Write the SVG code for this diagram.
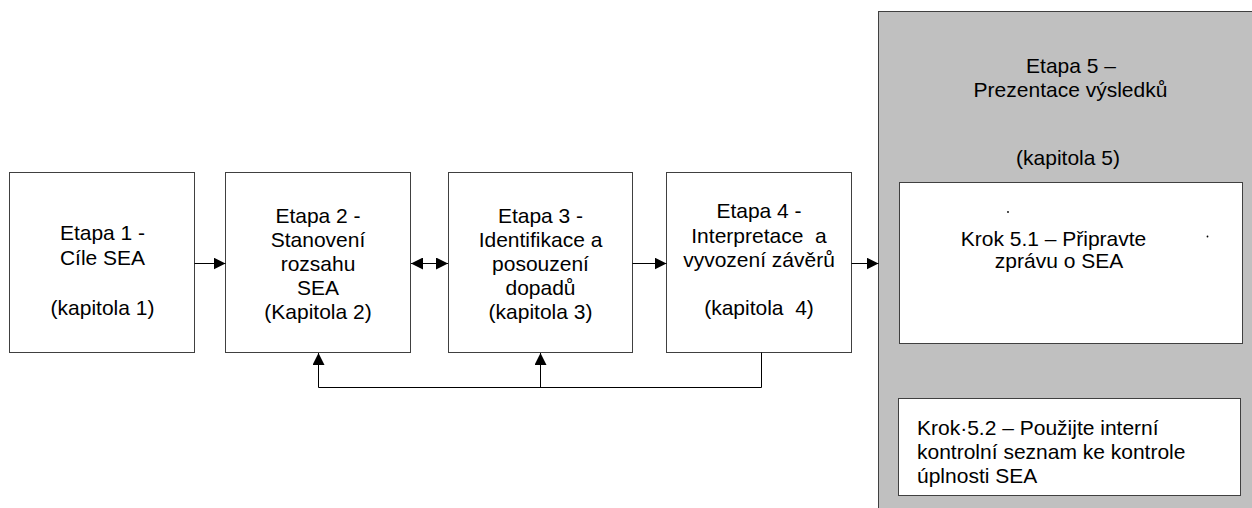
<svg xmlns="http://www.w3.org/2000/svg" width="1252" height="508" viewBox="0 0 1252 508">
  <style>
    .box { fill: #ffffff; stroke: #404040; stroke-width: 1; }
    .panel { fill: #c0c0c0; stroke: #404040; stroke-width: 1; }
    .lbl { font-family: "Liberation Sans", Arial, sans-serif; font-size: 21px; fill: #000000; text-anchor: middle; }
    .left { text-anchor: start; }
    .wire { fill: none; stroke: #000000; stroke-width: 1; }
  </style>
  <defs>
    <marker id="arrow" viewBox="0 0 12 12" refX="12" refY="6" markerWidth="12" markerHeight="12" markerUnits="userSpaceOnUse" orient="auto-start-reverse">
      <path d="M0,0 L12,6 L0,12 Z" fill="#000000"/>
    </marker>
  </defs>

  <rect width="1252" height="508" fill="#ffffff"/>

  <!-- Stage 5 panel with its two steps -->
  <g id="etapa5">
    <rect class="panel" x="878.5" y="11.5" width="380" height="510"/>
    <text class="lbl"><tspan x="1071" y="73">Etapa 5 –</tspan><tspan x="1070.5" y="97">Prezentace výsledků</tspan><tspan x="1068" y="165">(kapitola 5)</tspan></text>
  </g>
  <g id="krok51">
    <rect class="box" x="899.5" y="182.5" width="343" height="161"/>
    <text class="lbl"><tspan x="1053.5" y="246">Krok 5.1 – Připravte</tspan><tspan x="1059" y="268">zprávu o SEA</tspan></text>
    <circle cx="1008" cy="212" r="0.9" fill="#000000"/>
    <circle cx="1207.5" cy="236.5" r="0.9" fill="#000000"/>
  </g>
  <g id="krok52">
    <rect class="box" x="898.5" y="398.5" width="342" height="97"/>
    <text class="lbl left"><tspan x="917" y="435">Krok·5.2 – Použijte interní</tspan><tspan x="917" y="459">kontrolní seznam ke kontrole</tspan><tspan x="917" y="483">úplnosti SEA</tspan></text>
  </g>

  <!-- Stages 1-4 -->
  <g id="etapa1">
    <rect class="box" x="9.5" y="172.5" width="185" height="180"/>
    <text class="lbl"><tspan x="102.5" y="240">Etapa 1 -</tspan><tspan x="102.5" y="265">Cíle SEA</tspan><tspan x="102.5" y="315">(kapitola 1)</tspan></text>
  </g>
  <g id="etapa2">
    <rect class="box" x="225.5" y="172.5" width="185" height="180"/>
    <text class="lbl"><tspan x="318" y="223">Etapa 2 -</tspan><tspan x="318" y="247">Stanovení</tspan><tspan x="318" y="271">rozsahu</tspan><tspan x="318" y="295">SEA</tspan><tspan x="318" y="319">(Kapitola 2)</tspan></text>
  </g>
  <g id="etapa3">
    <rect class="box" x="448.5" y="172.5" width="184" height="180"/>
    <text class="lbl"><tspan x="540.5" y="223">Etapa 3 -</tspan><tspan x="540.5" y="247">Identifikace a</tspan><tspan x="540.5" y="271">posouzení</tspan><tspan x="540.5" y="295">dopadů</tspan><tspan x="540.5" y="319">(kapitola 3)</tspan></text>
  </g>
  <g id="etapa4">
    <rect class="box" x="666.5" y="172.5" width="185" height="180"/>
    <text class="lbl" xml:space="preserve"><tspan x="759" y="218">Etapa 4 -</tspan><tspan x="759" y="243">Interpretace  a</tspan><tspan x="759" y="267">vyvození závěrů</tspan><tspan x="759" y="315">(kapitola  4)</tspan></text>
  </g>

  <!-- Connectors -->
  <g id="connectors">
    <line class="wire" x1="194.5" y1="263.5" x2="225.5" y2="263.5" marker-end="url(#arrow)"/>
    <line class="wire" x1="411" y1="263.5" x2="448" y2="263.5" marker-start="url(#arrow)" marker-end="url(#arrow)"/>
    <line class="wire" x1="632.5" y1="263.5" x2="666.5" y2="263.5" marker-end="url(#arrow)"/>
    <line class="wire" x1="851.5" y1="263.5" x2="878.5" y2="263.5" marker-end="url(#arrow)"/>
    <polyline class="wire" points="761.5,352.5 761.5,387.5 318.5,387.5 318.5,353" marker-end="url(#arrow)"/>
    <line class="wire" x1="540.5" y1="387.5" x2="540.5" y2="353" marker-end="url(#arrow)"/>
  </g>
</svg>
